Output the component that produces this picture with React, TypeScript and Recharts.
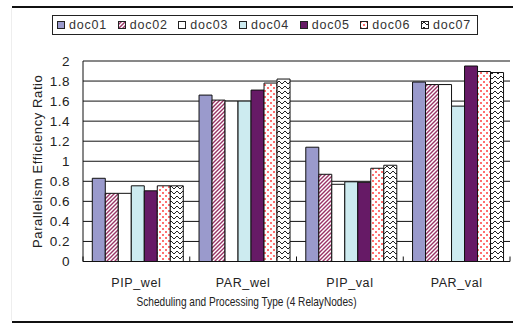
import React from 'react';
import { BarChart, Bar, XAxis, YAxis, CartesianGrid } from 'recharts';

const categories = ['PIP_wel', 'PAR_wel', 'PIP_val', 'PAR_val'];
const doc01 = [0.83, 1.66, 1.14, 1.79];
const doc02 = [0.68, 1.61, 0.87, 1.765];
const doc03 = [0.68, 1.6, 0.77, 1.765];
const doc04 = [0.755, 1.6, 0.795, 1.55];
const doc05 = [0.705, 1.71, 0.79, 1.95];
const doc06 = [0.755, 1.78, 0.93, 1.895];
const doc07 = [0.755, 1.82, 0.96, 1.885];
const seriesNames = ['doc01', 'doc02', 'doc03', 'doc04', 'doc05', 'doc06', 'doc07'];
const yTicks = [0, 0.2, 0.4, 0.6, 0.8, 1, 1.2, 1.4, 1.6, 1.8, 2];

const seriesValues = [doc01, doc02, doc03, doc04, doc05, doc06, doc07];
const fills = ['#9a9acc', 'url(#p02)', '#ffffff', '#cdebf0', '#661a66', 'url(#p06)', 'url(#p07)'];

const data = categories.map((c, i) => {
  const row: Record<string, number | string> = { name: c };
  seriesNames.forEach((s, j) => {
    row[s] = seriesValues[j][i];
  });
  return row;
});

const FONT = '"Liberation Sans", Arial, sans-serif';
const NARROW = '"Liberation Sans Narrow", "Liberation Sans", Arial, sans-serif';
const TICK_MARGIN = 17;

const PatternDefs = () => (
  <defs>
    <pattern id="p02" width="4" height="4" patternUnits="userSpaceOnUse">
      <rect width="4" height="4" fill="#ffffff" />
      <path d="M-1,1 l2,-2 M0,4 l4,-4 M3,5 l2,-2" stroke="#993366" strokeWidth="1.4" />
    </pattern>
    <pattern id="p06" width="6" height="6" patternUnits="userSpaceOnUse">
      <rect width="6" height="6" fill="#ffffff" />
      <rect x="0" y="0" width="2" height="2" fill="#ff6f6f" />
      <rect x="3" y="3" width="2" height="2" fill="#ff6f6f" />
    </pattern>
    <pattern id="p07" width="6" height="5" patternUnits="userSpaceOnUse">
      <rect width="6" height="5" fill="#ffffff" />
      <polyline points="0,4 3,1 6,4" fill="none" stroke="#222222" strokeWidth="1" />
    </pattern>
  </defs>
);

const CatTick = (props: any) => {
  const { x, y, payload, index } = props;
  const off = payload && typeof payload.offset === 'number' ? payload.offset : 0;
  const ay = y - TICK_MARGIN;
  return (
    <g>
      <text
        x={x}
        y={y}
        dy="0.71em"
        textAnchor="middle"
        fontFamily={FONT}
        fontSize={12.5}
        fill="#222"
        letterSpacing={0.6}
      >
        {payload.value}
      </text>
      {off > 0 && <line x1={x + off} x2={x + off} y1={ay} y2={ay - 5} stroke="#111" />}
      {off > 0 && index === 0 && <line x1={x - off} x2={x - off} y1={ay} y2={ay - 5} stroke="#111" />}
    </g>
  );
};

const XTitle = (props: any) => {
  const vb = props.viewBox || {};
  const cx = vb.x + vb.width / 2 - 50;
  const y = vb.y + vb.height - 25.5;
  return (
    <text
      x={cx}
      y={y}
      textAnchor="middle"
      fontFamily={NARROW}
      fontSize={13.5}
      fill="#222"
      textLength={220}
      lengthAdjust="spacingAndGlyphs"
    >
      Scheduling and Processing Type (4 RelayNodes)
    </text>
  );
};

const LegendBox = () => (
  <div
    style={{
      position: 'absolute',
      left: 52,
      top: 15,
      width: 426,
      border: '1px solid #222',
      background: '#fff',
      height: 20,
      boxSizing: 'border-box',
      display: 'flex',
      alignItems: 'center',
      justifyContent: 'space-between',
      paddingLeft: 4,
      paddingRight: 6,
      fontFamily: FONT,
      fontSize: 12.5,
      letterSpacing: 0.8,
      color: '#333',
    }}
  >
    {seriesNames.map((s, i) => (
      <div key={s} style={{ display: 'flex', alignItems: 'center' }}>
        <svg width="9" height="9" style={{ marginRight: 3 }}>
          <rect x="0.5" y="0.5" width="7" height="7" fill={fills[i]} stroke="#222" strokeWidth="1" />
        </svg>
        <span>{s}</span>
      </div>
    ))}
  </div>
);

export default function App() {
  return (
    <div style={{ position: 'absolute', left: 0, top: 0, width: 513, height: 331, background: '#fff' }}>
      <div style={{ position: 'absolute', left: 12, top: 6, width: 501, height: 2, background: '#111' }} />
      <div style={{ position: 'absolute', left: 12, top: 321, width: 501, height: 2, background: '#111' }} />
      <div style={{ position: 'absolute', left: 11, top: 8, width: 1, height: 313, background: '#eee' }} />
      <BarChart
        width={513}
        height={331}
        data={data}
        margin={{ top: 61, right: 3, bottom: 0, left: 0 }}
        barCategoryGap="8.7%"
        barGap={0}
        style={{ position: 'absolute', left: 0, top: 0 }}
      >
        <PatternDefs />
        <CartesianGrid vertical={false} stroke="#111" strokeWidth={1} />
        <XAxis
          dataKey="name"
          height={69.5}
          tickLine={false}
          axisLine={{ stroke: '#111' }}
          tickSize={0}
          tickMargin={TICK_MARGIN}
          interval={0}
          tick={<CatTick />}
          label={<XTitle />}
        />
        <YAxis
          width={83}
          domain={[0, 2]}
          ticks={yTicks}
          interval={0}
          tickLine={false}
          axisLine={{ stroke: '#111' }}
          tickSize={0}
          tickMargin={13}
          tick={{ fontFamily: FONT, fontSize: 13.5, fill: '#222', letterSpacing: 0.5 }}
          label={{
            value: 'Parallelism Efficiency Ratio',
            angle: -90,
            position: 'center',
            dx: -4,
            style: { fontFamily: FONT, fontSize: 13, fill: '#222', letterSpacing: 0.6 },
          }}
        />
        <YAxis
          yAxisId="frame"
          orientation="right"
          width={0}
          domain={[0, 2]}
          tick={false}
          tickLine={false}
          axisLine={{ stroke: '#111' }}
        />
        {seriesNames.map((s, i) => (
          <Bar
            key={s}
            dataKey={s}
            fill={fills[i]}
            stroke="#111"
            strokeWidth={1}
            isAnimationActive={false}
          />
        ))}
      </BarChart>
      <LegendBox />
    </div>
  );
}
